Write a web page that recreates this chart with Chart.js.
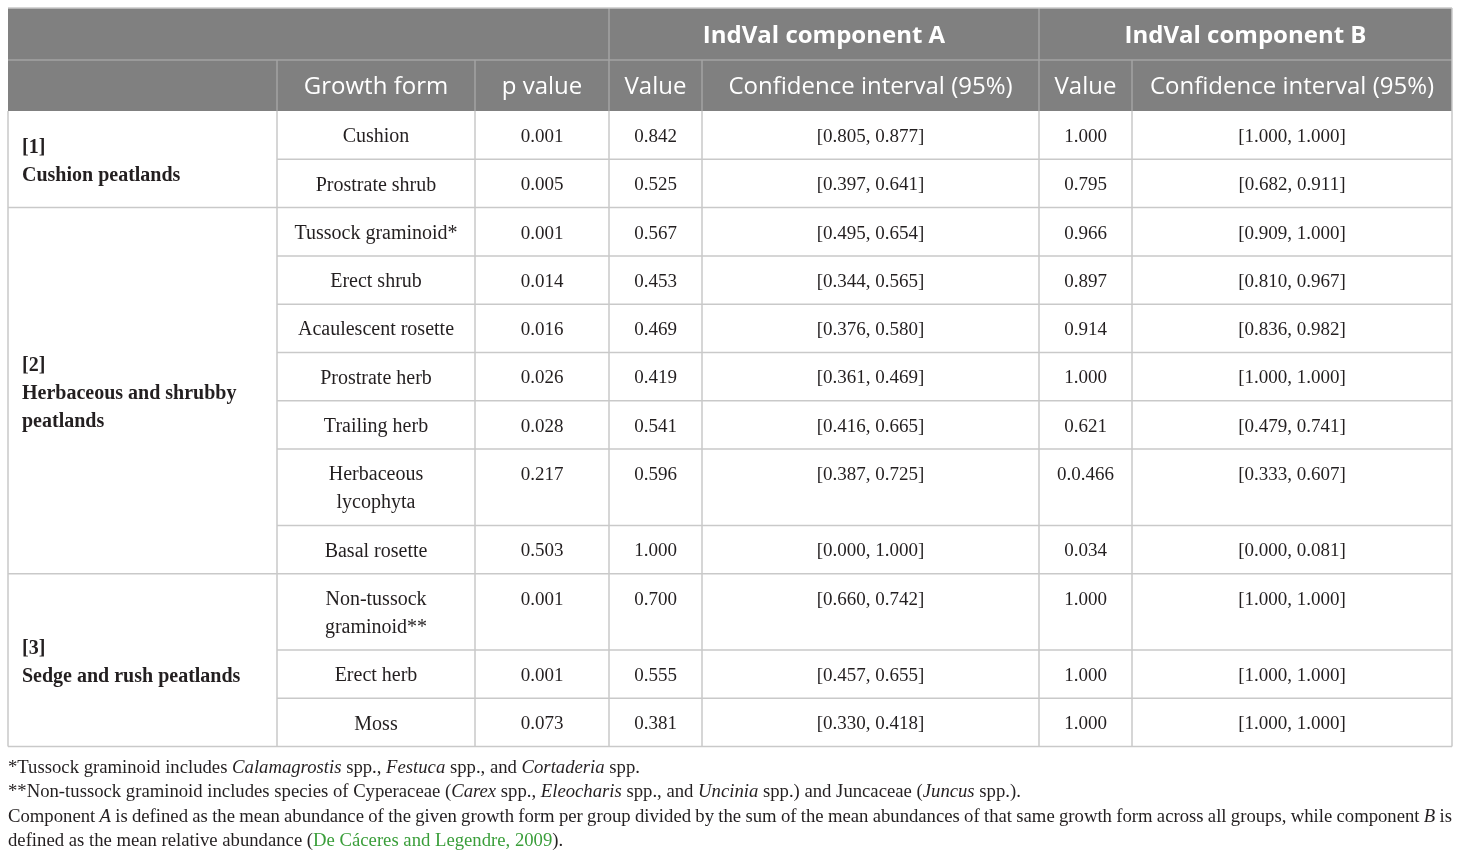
<!DOCTYPE html>
<html>
<head>
<meta charset="utf-8">
<script src="https://cdn.jsdelivr.net/npm/chart.js@4"></script>
<style>
  html, body { margin: 0; padding: 0; background: #fff; }
  #wrap { width: 1460px; height: 858px; }
</style>
</head>
<body>
<div id="wrap"><canvas id="table" width="1460" height="858"></canvas></div>
<script>
// Table data
const groupLabels = [
    ['[1]', 'Cushion peatlands'],
    ['[2]', 'Herbaceous and shrubby', 'peatlands'],
    ['[3]', 'Sedge and rush peatlands']
];
const groupOf = [0, 0, 1, 1, 1, 1, 1, 1, 1, 2, 2, 2];
const growthForms = [
    ['Cushion'], ['Prostrate shrub'], ['Tussock graminoid*'], ['Erect shrub'],
    ['Acaulescent rosette'], ['Prostrate herb'], ['Trailing herb'],
    ['Herbaceous', 'lycophyta'], ['Basal rosette'], ['Non-tussock', 'graminoid**'],
    ['Erect herb'], ['Moss']
];
const pValues = ['0.001', '0.005', '0.001', '0.014', '0.016', '0.026', '0.028', '0.217', '0.503', '0.001', '0.001', '0.073'];
const valueA = ['0.842', '0.525', '0.567', '0.453', '0.469', '0.419', '0.541', '0.596', '1.000', '0.700', '0.555', '0.381'];
const ciA = ['[0.805, 0.877]', '[0.397, 0.641]', '[0.495, 0.654]', '[0.344, 0.565]', '[0.376, 0.580]', '[0.361, 0.469]',
    '[0.416, 0.665]', '[0.387, 0.725]', '[0.000, 1.000]', '[0.660, 0.742]', '[0.457, 0.655]', '[0.330, 0.418]'];
const valueB = ['1.000', '0.795', '0.966', '0.897', '0.914', '1.000', '0.621', '0.0.466', '0.034', '1.000', '1.000', '1.000'];
const ciB = ['[1.000, 1.000]', '[0.682, 0.911]', '[0.909, 1.000]', '[0.810, 0.967]', '[0.836, 0.982]', '[1.000, 1.000]',
    '[0.479, 0.741]', '[0.333, 0.607]', '[0.000, 0.081]', '[1.000, 1.000]', '[1.000, 1.000]', '[1.000, 1.000]'];
const topHeaders = ['IndVal component A', 'IndVal component B'];
const subHeaders = ['', 'Growth form', 'p value', 'Value', 'Confidence interval (95%)', 'Value', 'Confidence interval (95%)'];

// Footnotes: runs of [text, style]  (n = normal, i = italic, l = link)
const footnotes = [
    [['*Tussock graminoid includes ', 'n'], ['Calamagrostis', 'i'], [' spp., ', 'n'], ['Festuca', 'i'],
     [' spp., and ', 'n'], ['Cortaderia', 'i'], [' spp.', 'n']],
    [['**Non-tussock graminoid includes species of Cyperaceae (', 'n'], ['Carex', 'i'], [' spp., ', 'n'],
     ['Eleocharis', 'i'], [' spp., and ', 'n'], ['Uncinia', 'i'], [' spp.) and Juncaceae (', 'n'], ['Juncus', 'i'], [' spp.).', 'n']],
    [['Component ', 'n'], ['A', 'i'], [' is defined as the mean abundance of the given growth form per group divided by the sum of the mean abundances of that same growth form across all groups, while component ', 'n'], ['B', 'i'], [' is', 'n']],
    [['defined as the mean relative abundance (', 'n'], ['De Cáceres and Legendre, 2009', 'l'], [').', 'n']]
];
const justified = [false, false, true, false];

// Layout
const colEdges = [8, 277, 475, 609, 702, 1039, 1132, 1452];
const headerEdges = [8, 60, 111];
const bodyTop = 111;
const lineH = 28;
const rowPad = 20.3;
const footTop = 766, footStep = 24.3;

const SERIF = '"Liberation Serif", "DejaVu Serif", serif';
const SANS = '"Open Sans", "Noto Sans", sans-serif';
const textColor = '#231f20';

const tablePlugin = {
    id: 'tablePlugin',
    afterDraw(chart) {
        const ctx = chart.ctx;
        const X = v => chart.scales.x.getPixelForValue(v);
        const Y = v => chart.scales.y.getPixelForValue(v);
        const left = colEdges[0], right = colEdges[colEdges.length - 1];

        // row edges from line counts
        const rowEdges = [bodyTop];
        growthForms.forEach(g => rowEdges.push(rowEdges[rowEdges.length - 1] + rowPad + lineH * g.length));
        const bottom = rowEdges[rowEdges.length - 1];

        ctx.save();
        // header background
        ctx.fillStyle = '#808080';
        ctx.fillRect(X(left), Y(headerEdges[0]), X(right) - X(left), Y(headerEdges[2]) - Y(headerEdges[0]));

        // header lines
        ctx.strokeStyle = '#a3a3a3';
        ctx.lineWidth = 1.5;
        const line = (x1, y1, x2, y2) => {
            ctx.beginPath();
            ctx.moveTo(X(x1), Y(y1));
            ctx.lineTo(X(x2), Y(y2));
            ctx.stroke();
        };
        line(left, headerEdges[1], right, headerEdges[1]);
        [3, 5].forEach(i => line(colEdges[i], headerEdges[0], colEdges[i], headerEdges[1]));
        for (let i = 1; i < colEdges.length - 1; i++) line(colEdges[i], headerEdges[1], colEdges[i], headerEdges[2]);

        // header text
        ctx.fillStyle = '#ffffff';
        ctx.textAlign = 'center';
        ctx.textBaseline = 'middle';
        ctx.font = 'bold 24px ' + SANS;
        ctx.fillText(topHeaders[0], X((colEdges[3] + colEdges[5]) / 2), Y(36));
        ctx.fillText(topHeaders[1], X((colEdges[5] + colEdges[7]) / 2), Y(36));
        ctx.font = '24px ' + SANS;
        subHeaders.forEach((h, i) => {
            if (h) ctx.fillText(h, X((colEdges[i] + colEdges[i + 1]) / 2), Y(87));
        });

        // body grid
        ctx.strokeStyle = '#c9c9c9';
        ctx.lineWidth = 1.5;
        line(left, bodyTop, left, bottom);
        line(right, headerEdges[0], right, bottom);
        line(left, headerEdges[0], right, headerEdges[0]);
        for (let i = 1; i < colEdges.length - 1; i++) line(colEdges[i], bodyTop, colEdges[i], bottom);
        for (let r = 1; r < rowEdges.length; r++) {
            const groupEnd = r === rowEdges.length - 1 || groupOf[r] !== groupOf[r - 1];
            line(groupEnd ? left : colEdges[1], rowEdges[r], right, rowEdges[r]);
        }

        // body text
        ctx.fillStyle = textColor;
        const cols = [growthForms, pValues, valueA, ciA, valueB, ciB];
        growthForms.forEach((g, r) => {
            const yTop = rowEdges[r] + 26;
            cols.forEach((col, c) => {
                ctx.font = (c === 0 ? '20px ' : '19px ') + SERIF;
                const cx = X((colEdges[c + 1] + colEdges[c + 2]) / 2);
                const lines = Array.isArray(col[r]) ? col[r] : [col[r]];
                lines.forEach((t, k) => ctx.fillText(t, cx, Y(yTop + k * lineH)));
            });
        });

        // group labels
        ctx.textAlign = 'left';
        ctx.font = 'bold 20px ' + SERIF;
        groupLabels.forEach((lab, gi) => {
            const rows = groupOf.map((g, i) => g === gi ? i : -1).filter(i => i >= 0);
            const y0 = rowEdges[rows[0]], y1 = rowEdges[rows[rows.length - 1] + 1];
            const mid = (y0 + y1) / 2 + 3;
            const start = mid - (lab.length - 1) * lineH / 2;
            lab.forEach((t, k) => ctx.fillText(t, X(22), Y(start + k * lineH)));
        });

        // footnotes
        const fontFor = s => (s === 'i' ? 'italic ' : '') + '18.7px ' + SERIF;
        footnotes.forEach((runs, li) => {
            const y = Y(footTop + 2 + li * footStep);
            // split into words keeping style
            const words = [];
            runs.forEach(([text, style]) => {
                text.split(/( )/).forEach(part => {
                    if (part === '') return;
                    words.push({ text: part, style });
                });
            });
            let natural = 0, gaps = 0;
            words.forEach(w => {
                ctx.font = fontFor(w.style);
                w.width = ctx.measureText(w.text).width;
                natural += w.width;
                if (w.text === ' ') gaps++;
            });
            const extra = justified[li] && gaps ? (X(right) - X(left) - natural) / gaps : 0;
            let x = X(left);
            words.forEach(w => {
                ctx.font = fontFor(w.style);
                ctx.fillStyle = w.style === 'l' ? '#3a9e3a' : textColor;
                ctx.fillText(w.text, x, y);
                x += w.width + (w.text === ' ' ? extra : 0);
            });
        });
        ctx.restore();
    }
};

new Chart(document.getElementById('table').getContext('2d'), {
    type: 'scatter',
    data: { datasets: [] },
    options: {
        responsive: false,
        animation: false,
        layout: { padding: 0 },
        plugins: { legend: { display: false }, tooltip: { enabled: false } },
        scales: {
            x: { type: 'linear', min: 0, max: 1460, display: false },
            y: { type: 'linear', min: 0, max: 858, reverse: true, display: false }
        }
    },
    plugins: [tablePlugin]
});
</script>
</body>
</html>
